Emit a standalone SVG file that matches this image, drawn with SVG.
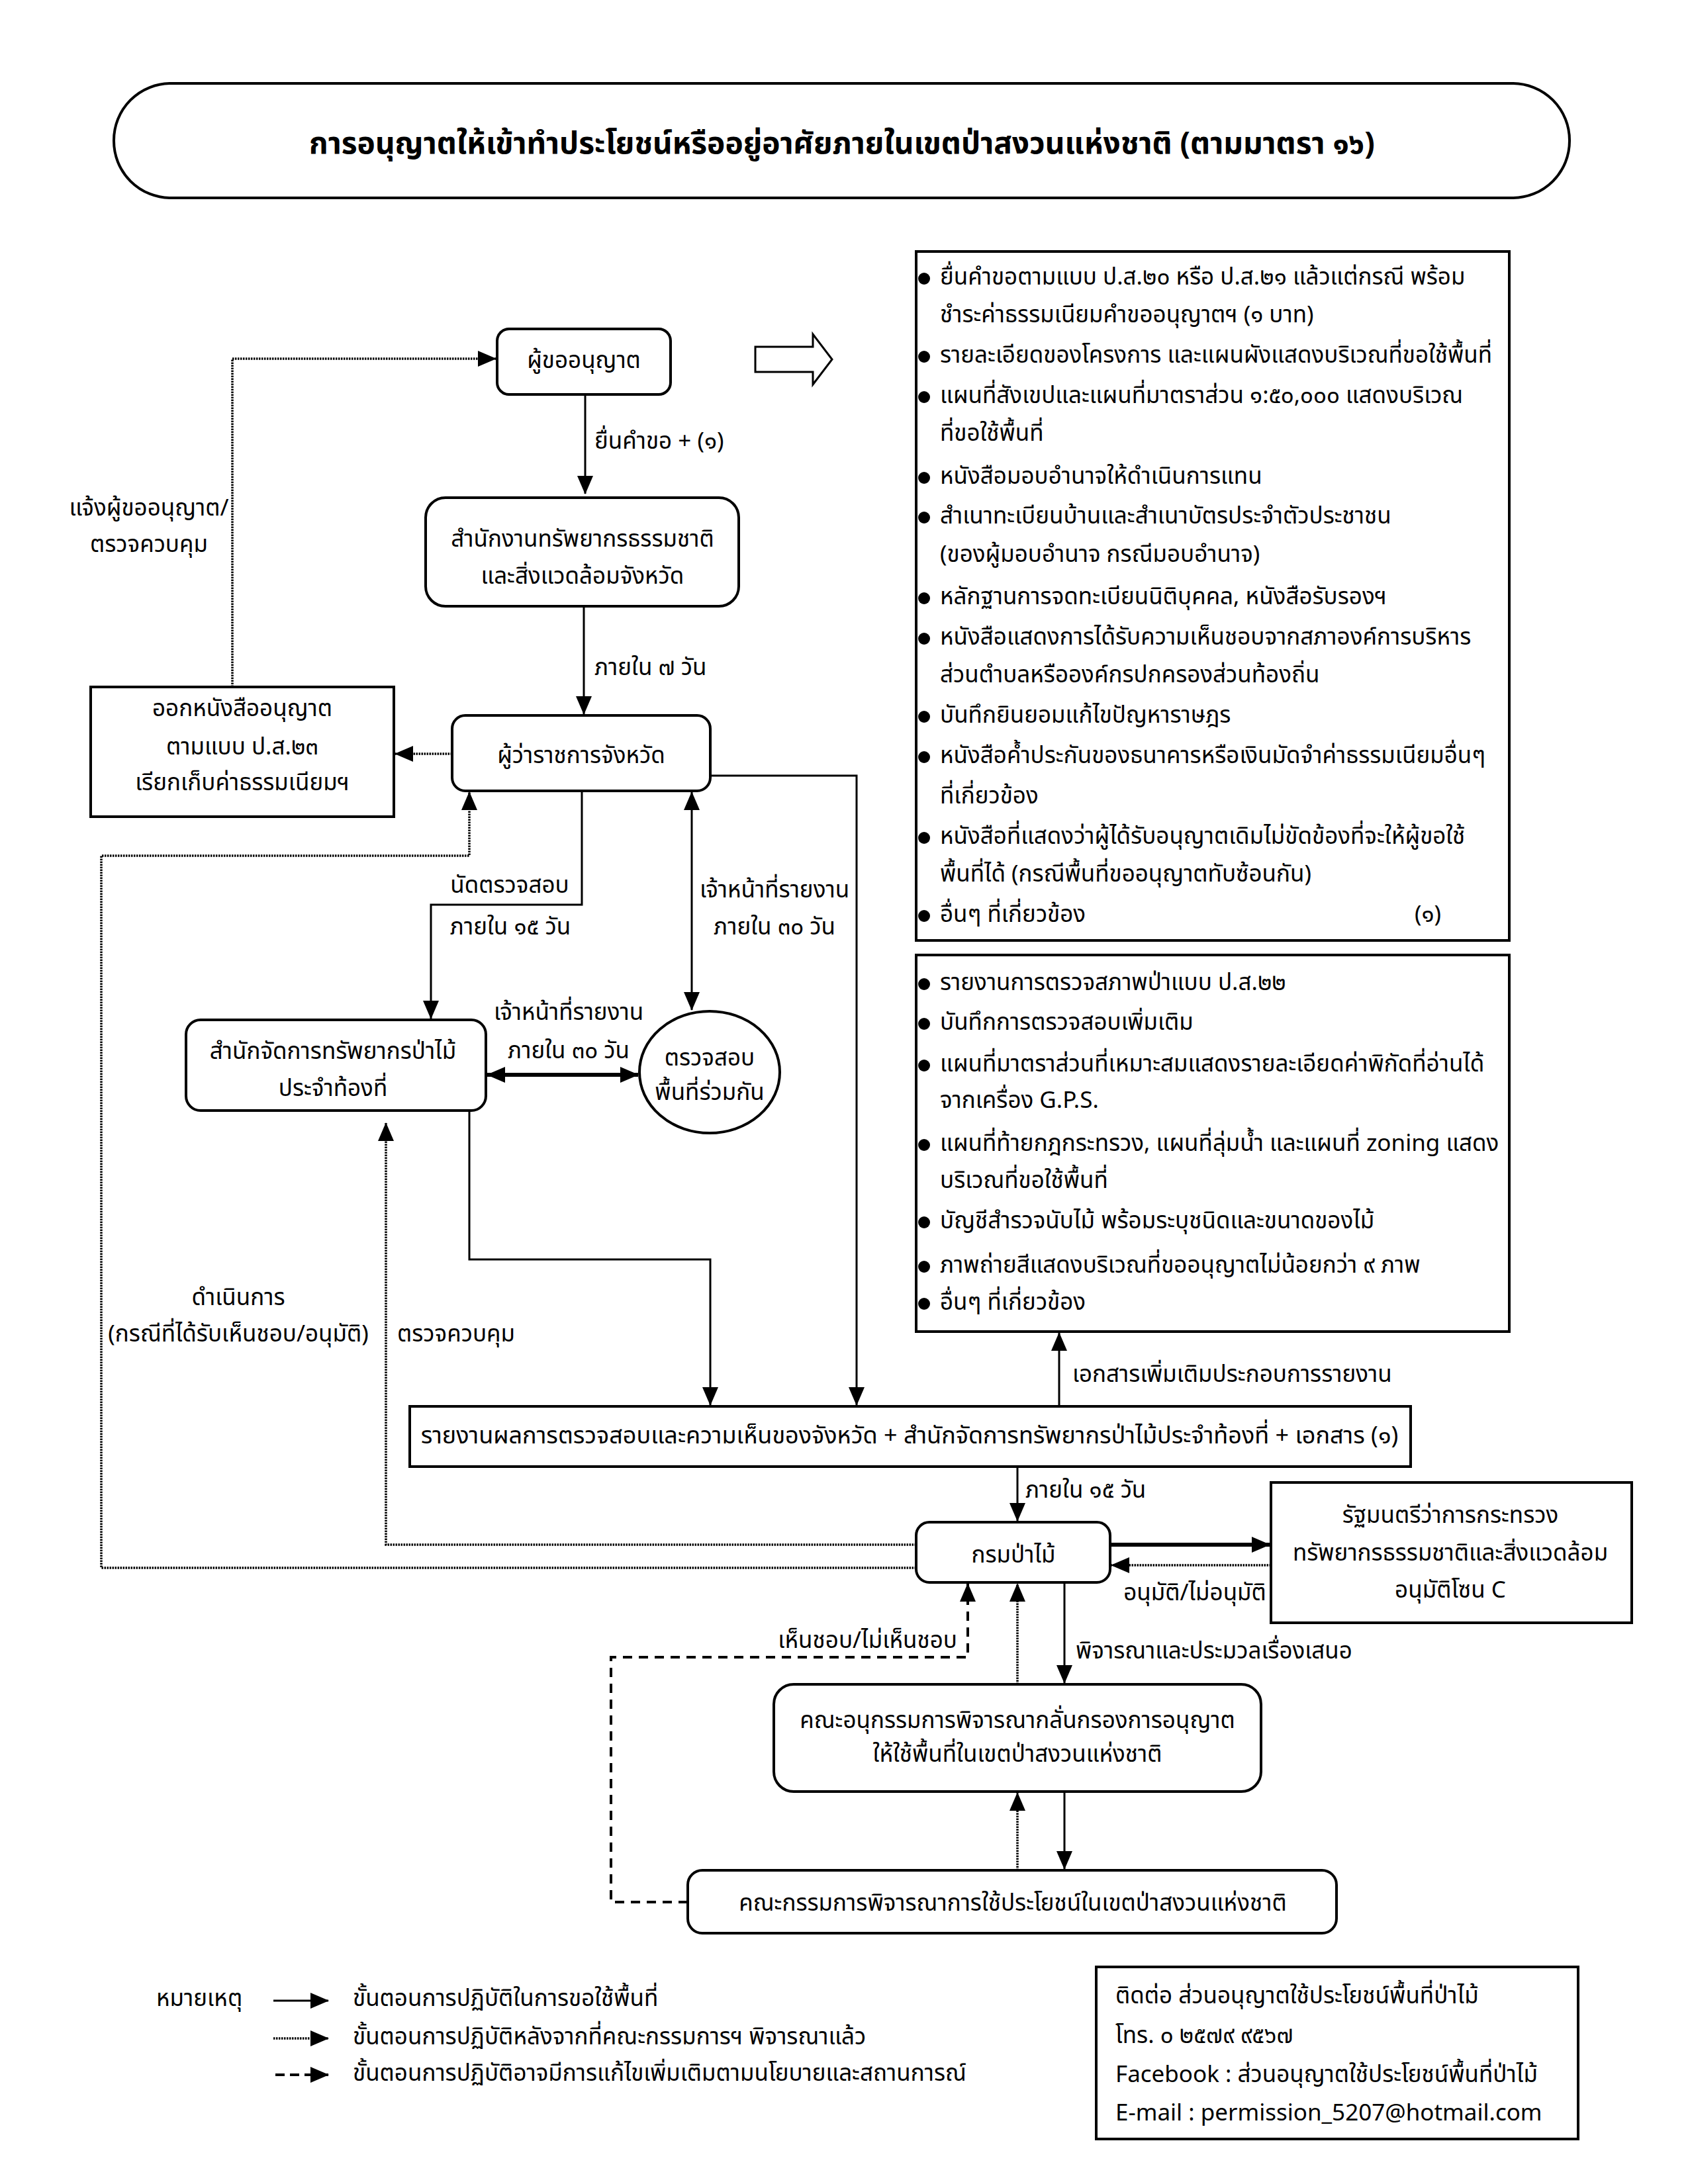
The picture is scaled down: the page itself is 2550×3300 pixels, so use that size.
<svg xmlns="http://www.w3.org/2000/svg" width="2550" height="3300" viewBox="0 0 2550 3300">
<style>
.bg{fill:#fff}
.box{fill:#fff;stroke:#000;stroke-width:4}
.t{font-family:"Noto Sans Thai","Noto Sans","DejaVu Sans","Liberation Sans",sans-serif;font-size:35px;fill:#000;dominant-baseline:central}
.m{text-anchor:middle}
.e{text-anchor:end}
.title{font-size:46px;font-weight:bold}
.c{stroke:#000;stroke-width:3;fill:none}
.dot{stroke-dasharray:2.5 1.5;stroke-width:3.5}
.dash{stroke-dasharray:14 10;stroke-width:4}
.thick{stroke-width:6}
</style>
<defs>
<marker id="ah" markerUnits="userSpaceOnUse" markerWidth="28" markerHeight="24" refX="27" refY="12" orient="auto-start-reverse" viewBox="0 0 28 24">
<path d="M0,0 L28,12 L0,24 z" fill="#000"/>
</marker>
</defs>
<rect class="bg" x="0" y="0" width="2550" height="3300"/>

<g id="title">
<rect class="box" x="172" y="126" width="2199" height="173" rx="86"/>
<text class="t m title" x="1272" y="218">การอนุญาตให้เข้าทำประโยชน์หรืออยู่อาศัยภายในเขตป่าสงวนแห่งชาติ (ตามมาตรา ๑๖)</text>
</g>

<g id="n_applicant">
<rect class="box" x="751" y="497" width="262" height="99" rx="18"/>
<text class="t m" x="882" y="545">ผู้ขออนุญาต</text>
</g>

<g id="hollow_arrow">
<polygon points="1141,524 1228,524 1228,505 1257,543 1228,581 1228,562 1141,562" fill="#fff" stroke="#000" stroke-width="3"/>
</g>

<g id="n_office">
<rect class="box" x="643" y="752" width="473" height="164" rx="30"/>
<text class="t m" x="880" y="815">สำนักงานทรัพยากรธรรมชาติ</text>
<text class="t m" x="880" y="871">และสิ่งแวดล้อมจังหวัด</text>
</g>

<g id="n_governor">
<rect class="box" x="683" y="1081" width="390" height="114" rx="20"/>
<text class="t m" x="878" y="1142">ผู้ว่าราชการจังหวัด</text>
</g>

<g id="n_issue">
<rect class="box" x="137" y="1038" width="458" height="196"/>
<text class="t m" x="366" y="1071">ออกหนังสืออนุญาต</text>
<text class="t m" x="366" y="1129">ตามแบบ ป.ส.๒๓</text>
<text class="t m" x="366" y="1183">เรียกเก็บค่าธรรมเนียมฯ</text>
</g>

<g id="n_forest_office">
<rect class="box" x="281" y="1541" width="453" height="137" rx="22"/>
<text class="t m" x="503" y="1589">สำนักจัดการทรัพยากรป่าไม้</text>
<text class="t m" x="503" y="1645">ประจำท้องที่</text>
</g>

<g id="n_joint_check">
<ellipse class="box" cx="1072" cy="1620" rx="106" ry="92" stroke-width="3"/>
<text class="t m" x="1072" y="1599">ตรวจสอบ</text>
<text class="t m" x="1072" y="1651">พื้นที่ร่วมกัน</text>
</g>

<g id="n_docs1">
<rect class="box" x="1384" y="380" width="896" height="1041"/>
<g fill="#000">
<circle cx="1396" cy="421" r="9"/><circle cx="1396" cy="539" r="9"/><circle cx="1396" cy="600" r="9"/>
<circle cx="1396" cy="722" r="9"/><circle cx="1396" cy="782" r="9"/><circle cx="1396" cy="904" r="9"/>
<circle cx="1396" cy="965" r="9"/><circle cx="1396" cy="1083" r="9"/><circle cx="1396" cy="1144" r="9"/>
<circle cx="1396" cy="1266" r="9"/><circle cx="1396" cy="1384" r="9"/>
</g>
<text class="t" x="1420" y="419">ยื่นคำขอตามแบบ ป.ส.๒๐ หรือ ป.ส.๒๑ แล้วแต่กรณี พร้อม</text>
<text class="t" x="1420" y="476">ชำระค่าธรรมเนียมคำขออนุญาตฯ (๑ บาท)</text>
<text class="t" x="1420" y="537">รายละเอียดของโครงการ และแผนผังแสดงบริเวณที่ขอใช้พื้นที่</text>
<text class="t" x="1420" y="598">แผนที่สังเขปและแผนที่มาตราส่วน ๑:๕๐,๐๐๐ แสดงบริเวณ</text>
<text class="t" x="1420" y="655">ที่ขอใช้พื้นที่</text>
<text class="t" x="1420" y="720">หนังสือมอบอำนาจให้ดำเนินการแทน</text>
<text class="t" x="1420" y="780">สำเนาทะเบียนบ้านและสำเนาบัตรประจำตัวประชาชน</text>
<text class="t" x="1420" y="838">(ของผู้มอบอำนาจ กรณีมอบอำนาจ)</text>
<text class="t" x="1420" y="902">หลักฐานการจดทะเบียนนิติบุคคล, หนังสือรับรองฯ</text>
<text class="t" x="1420" y="963">หนังสือแสดงการได้รับความเห็นชอบจากสภาองค์การบริหาร</text>
<text class="t" x="1420" y="1020">ส่วนตำบลหรือองค์กรปกครองส่วนท้องถิ่น</text>
<text class="t" x="1420" y="1081">บันทึกยินยอมแก้ไขปัญหาราษฎร</text>
<text class="t" x="1420" y="1142">หนังสือค้ำประกันของธนาคารหรือเงินมัดจำค่าธรรมเนียมอื่นๆ</text>
<text class="t" x="1420" y="1203">ที่เกี่ยวข้อง</text>
<text class="t" x="1420" y="1264">หนังสือที่แสดงว่าผู้ได้รับอนุญาตเดิมไม่ขัดข้องที่จะให้ผู้ขอใช้</text>
<text class="t" x="1420" y="1321">พื้นที่ได้ (กรณีพื้นที่ขออนุญาตทับซ้อนกัน)</text>
<text class="t" x="1420" y="1382">อื่นๆ ที่เกี่ยวข้อง</text>
<text class="t m" x="2157" y="1382">(๑)</text>
</g>

<g id="n_docs2">
<rect class="box" x="1384" y="1443" width="896" height="569"/>
<g fill="#000">
<circle cx="1396" cy="1487" r="9"/><circle cx="1396" cy="1547" r="9"/><circle cx="1396" cy="1610" r="9"/>
<circle cx="1396" cy="1730" r="9"/><circle cx="1396" cy="1847" r="9"/><circle cx="1396" cy="1914" r="9"/>
<circle cx="1396" cy="1970" r="9"/>
</g>
<text class="t" x="1420" y="1485">รายงานการตรวจสภาพป่าแบบ ป.ส.๒๒</text>
<text class="t" x="1420" y="1545">บันทึกการตรวจสอบเพิ่มเติม</text>
<text class="t" x="1420" y="1608">แผนที่มาตราส่วนที่เหมาะสมแสดงรายละเอียดค่าพิกัดที่อ่านได้</text>
<text class="t" x="1420" y="1663">จากเครื่อง G.P.S.</text>
<text class="t" x="1420" y="1728">แผนที่ท้ายกฎกระทรวง, แผนที่ลุ่มน้ำ และแผนที่ zoning แสดง</text>
<text class="t" x="1420" y="1784">บริเวณที่ขอใช้พื้นที่</text>
<text class="t" x="1420" y="1845">บัญชีสำรวจนับไม้ พร้อมระบุชนิดและขนาดของไม้</text>
<text class="t" x="1420" y="1912">ภาพถ่ายสีแสดงบริเวณที่ขออนุญาตไม่น้อยกว่า ๙ ภาพ</text>
<text class="t" x="1420" y="1968">อื่นๆ ที่เกี่ยวข้อง</text>
</g>

<g id="n_report">
<rect class="box" x="619" y="2125" width="1512" height="91"/>
<text class="t m" x="1374" y="2170" style="font-size:36px">รายงานผลการตรวจสอบและความเห็นของจังหวัด + สำนักจัดการทรัพยากรป่าไม้ประจำท้องที่ + เอกสาร (๑)</text>
</g>

<g id="n_rfd">
<rect class="box" x="1384" y="2300" width="293" height="91" rx="20"/>
<text class="t m" x="1531" y="2350">กรมป่าไม้</text>
</g>

<g id="n_minister">
<rect class="box" x="1920" y="2240" width="545" height="212"/>
<text class="t m" x="2191" y="2290">รัฐมนตรีว่าการกระทรวง</text>
<text class="t m" x="2191" y="2347">ทรัพยากรธรรมชาติและสิ่งแวดล้อม</text>
<text class="t m" x="2191" y="2403">อนุมัติโซน C</text>
</g>

<g id="n_subcommittee">
<rect class="box" x="1169" y="2545" width="736" height="162" rx="30"/>
<text class="t m" x="1537" y="2600">คณะอนุกรรมการพิจารณากลั่นกรองการอนุญาต</text>
<text class="t m" x="1537" y="2651">ให้ใช้พื้นที่ในเขตป่าสงวนแห่งชาติ</text>
</g>

<g id="n_committee">
<rect class="box" x="1039" y="2826" width="980" height="95" rx="22"/>
<text class="t m" x="1530" y="2876">คณะกรรมการพิจารณาการใช้ประโยชน์ในเขตป่าสงวนแห่งชาติ</text>
</g>

<g id="connectors">
<path class="c" d="M884,597 V746" marker-end="url(#ah)"/>
<path class="c" d="M882,916 V1079" marker-end="url(#ah)"/>
<path class="c dot" d="M683,1139 H597" marker-end="url(#ah)"/>
<path class="c dot" d="M351,1038 V542 H749" marker-end="url(#ah)"/>
<path class="c" d="M879,1195 V1367 H651 V1539" marker-end="url(#ah)"/>
<path class="c" d="M1045,1197 V1526" marker-start="url(#ah)" marker-end="url(#ah)"/>
<path class="c thick" d="M736,1624 H964" marker-start="url(#ah)" marker-end="url(#ah)"/>
<path class="c" d="M1073,1172 H1294 V2123" marker-end="url(#ah)"/>
<path class="c" d="M709,1678 V1903 H1073 V2123" marker-end="url(#ah)"/>
<path class="c" d="M1600,2125 V2014" marker-end="url(#ah)"/>
<path class="c" d="M1537,2216 V2298" marker-end="url(#ah)"/>
<path class="c dot" d="M1384,2334 H583 V1697" marker-end="url(#ah)"/>
<path class="c dot" d="M1384,2369 H153 V1293 H709 V1197" marker-end="url(#ah)"/>
<path class="c thick" d="M1677,2334 H1918" marker-end="url(#ah)"/>
<path class="c dot" d="M1920,2365 H1679" marker-end="url(#ah)"/>
<path class="c" d="M1608,2391 V2543" marker-end="url(#ah)"/>
<path class="c dot" d="M1537,2545 V2393" marker-end="url(#ah)"/>
<path class="c dash" d="M1039,2874 H923 V2504 H1462 V2393" marker-end="url(#ah)"/>
<path class="c dot" d="M1537,2826 V2709" marker-end="url(#ah)"/>
<path class="c" d="M1608,2707 V2824" marker-end="url(#ah)"/>
</g>

<g id="connector_labels">
<text class="t" x="898" y="667">ยื่นคำขอ + (๑)</text>
<text class="t" x="898" y="1009">ภายใน ๗ วัน</text>
<text class="t m" x="225" y="768">แจ้งผู้ขออนุญาต/</text>
<text class="t m" x="225" y="823">ตรวจควบคุม</text>
<text class="t m" x="770" y="1338">นัดตรวจสอบ</text>
<text class="t m" x="771" y="1401">ภายใน ๑๕ วัน</text>
<text class="t m" x="1170" y="1345">เจ้าหน้าที่รายงาน</text>
<text class="t m" x="1170" y="1401">ภายใน ๓๐ วัน</text>
<text class="t m" x="859" y="1530">เจ้าหน้าที่รายงาน</text>
<text class="t m" x="859" y="1588">ภายใน ๓๐ วัน</text>
<text class="t" x="1620" y="2077">เอกสารเพิ่มเติมประกอบการรายงาน</text>
<text class="t" x="1549" y="2252">ภายใน ๑๕ วัน</text>
<text class="t m" x="360" y="1961">ดำเนินการ</text>
<text class="t m" x="360" y="2016">(กรณีที่ได้รับเห็นชอบ/อนุมัติ)</text>
<text class="t" x="600" y="2016">ตรวจควบคุม</text>
<text class="t m" x="1805" y="2407">อนุมัติ/ไม่อนุมัติ</text>
<text class="t" x="1625" y="2495">พิจารณาและประมวลเรื่องเสนอ</text>
<text class="t e" x="1446" y="2479">เห็นชอบ/ไม่เห็นชอบ</text>
</g>

<g id="legend">
<text class="t" x="236" y="3020">หมายเหตุ</text>
<path class="c" d="M413,3023 H496" marker-end="url(#ah)"/>
<path class="c dot" d="M413,3080 H496" marker-end="url(#ah)"/>
<path class="c dash" d="M416,3135 H496" marker-end="url(#ah)" style="stroke-dasharray:14 8"/>
<text class="t" x="533" y="3020">ขั้นตอนการปฏิบัติในการขอใช้พื้นที่</text>
<text class="t" x="533" y="3078">ขั้นตอนการปฏิบัติหลังจากที่คณะกรรมการฯ พิจารณาแล้ว</text>
<text class="t" x="533" y="3133">ขั้นตอนการปฏิบัติอาจมีการแก้ไขเพิ่มเติมตามนโยบายและสถานการณ์</text>
</g>

<g id="contact">
<rect class="box" x="1656" y="2972" width="728" height="260"/>
<text class="t" x="1685" y="3016">ติดต่อ ส่วนอนุญาตใช้ประโยชน์พื้นที่ป่าไม้</text>
<text class="t" x="1685" y="3076">โทร. ๐ ๒๕๗๙ ๙๕๖๗</text>
<text class="t" x="1685" y="3135">Facebook : ส่วนอนุญาตใช้ประโยชน์พื้นที่ป่าไม้</text>
<text class="t" x="1685" y="3193">E-mail : permission_5207@hotmail.com</text>
</g>
</svg>
